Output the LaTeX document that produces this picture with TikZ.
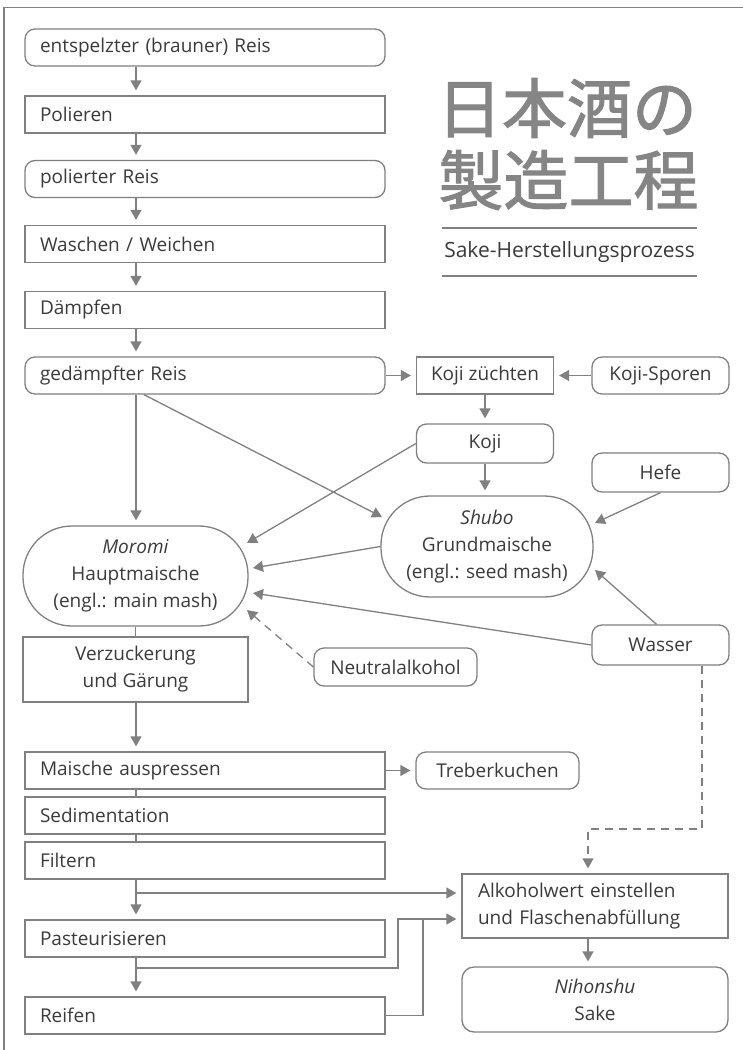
\documentclass[tikz,border=0pt]{standalone}
\usepackage{fontspec}
\setmainfont{Open Sans}
\newfontfamily\cjkfont{Noto Sans CJK JP}[FakeBold=1.6]
\usetikzlibrary{arrows.meta,calc}
\definecolor{lc}{HTML}{808080}
\definecolor{tc}{HTML}{3A3A3A}
\definecolor{ttl}{HTML}{858585}
\newcommand\bodysize{\fontsize{19pt}{27pt}\selectfont}
\begin{document}
\begin{tikzpicture}[x=1pt,y=-1pt,
  base/.style={draw=lc, line width=1.3pt, text=tc, font=\bodysize, inner sep=0pt, align=center},
  sbox/.style={base},
  rbox/.style={base, rounded corners=10pt},
  mash/.style={base, rounded corners=49pt},
  lcol/.style={minimum width=360pt, minimum height=37pt, text width=330pt, align=left},
  small/.style={minimum width=137pt, minimum height=37pt},
  arr/.style={draw=lc, line width=1.3pt, -{Triangle[length=10pt,width=11pt]}, shorten >=5pt},
  darr/.style={arr, shorten >=0pt},
  ln/.style={draw=lc, line width=1.3pt},
  dsh/.style={dash pattern=on 8pt off 6pt}
]
\useasboundingbox (0,0) rectangle (743,1050);
% frame
\draw[lc, line width=1.5pt] (4,1050) -- (4,7.5) -- (743,7.5);

% title
\node[text=ttl, font=\cjkfont\fontsize{65pt}{72pt}\selectfont, inner sep=0pt] (t1) at (567,108) {日本酒の};
\node[text=ttl, font=\cjkfont\fontsize{65pt}{72pt}\selectfont, inner sep=0pt] (t2) at (568.5,180) {製造工程};
\node[text=tc, font=\fontsize{21pt}{25pt}\selectfont, inner sep=0pt] (sub) at (569.5,252) {Sake-Herstellungsprozess};
\draw[lc, line width=1.5pt] (442,228) -- (697,228);
\draw[lc, line width=1.5pt] (442,276) -- (697,276);

% left column
\node[rbox, lcol] (b1) at (205,47.5) {entspelzter (brauner) Reis};
\node[sbox, lcol] (b2) at (205,114.5) {Polieren};
\node[rbox, lcol] (b3) at (205,179) {polierter Reis};
\node[sbox, lcol] (b4) at (205,244) {Waschen / Weichen};
\node[sbox, lcol] (b5) at (205,310) {Dämpfen};
\node[rbox, lcol] (b6) at (205,375.5) {gedämpfter Reis};

% koji
\node[sbox, small] (kz) at (485,375.5) {Koji züchten};
\node[rbox, small] (ks) at (660.5,375.5) {Koji-Sporen};
\node[rbox, small, minimum height=39pt] (koji) at (485,443.5) {Koji};
\node[rbox, small, minimum height=39pt] (hefe) at (660.5,472.5) {Hefe};

% mashes
\node[mash, minimum width=212pt, minimum height=101pt] (shubo) at (487,546.5) {\textit{Shubo}\\Grundmaische\\(engl.: seed mash)};
\node[mash, minimum width=225pt, minimum height=100pt] (moromi) at (135.5,576) {\textit{Moromi}\\Hauptmaische\\(engl.: main mash)};
\node[rbox, small, minimum height=40pt] (wasser) at (660.5,645) {Wasser};
\node[rbox, minimum width=163pt, minimum height=38pt] (neutral) at (395.5,667) {Neutralalkohol};
\node[sbox, minimum width=225pt, minimum height=65pt] (verz) at (135.5,669.5) {Verzuckerung\\und Gärung};

% lower column
\node[sbox, lcol] (mai) at (205,770.5) {Maische auspressen};
\node[sbox, lcol] (sed) at (205,815.5) {Sedimentation};
\node[sbox, lcol] (fil) at (205,860.5) {Filtern};
\node[sbox, lcol] (pas) at (205,938.5) {Pasteurisieren};
\node[sbox, lcol] (rei) at (205,1015.5) {Reifen};
\node[rbox, minimum width=163pt, minimum height=37pt] (trb) at (497.5,770.5) {Treberkuchen};
\node[sbox, minimum width=266pt, minimum height=64pt, text width=234pt, align=left] (alk) at (595,906) {Alkoholwert einstellen\\und Flaschenabfüllung};
\node[rbox, rounded corners=12pt, minimum width=266pt, minimum height=65pt] (nih) at (595,999.5) {\textit{Nihonshu}\\Sake};

% coordinates
\coordinate (cx) at (136,0);
\coordinate (d1) at (702,829);
\coordinate (d2) at (588,829);
\coordinate (j1) at (136,893);
\coordinate (j2) at (136,968);
\coordinate (j3) at (398,968);
\coordinate (j4) at (398,919);
\coordinate (j5) at (423,1015.5);
\coordinate (j6) at (423,919);

% connectors
\draw[arr] (b1.south -| cx) -- (b2.north -| cx);
\draw[arr] (b2.south -| cx) -- (b3.north -| cx);
\draw[arr] (b3.south -| cx) -- (b4.north -| cx);
\draw[arr] (b4.south -| cx) -- (b5.north -| cx);
\draw[arr] (b5.south -| cx) -- (b6.north -| cx);
\draw[arr] (b6.east) -- (kz.west);
\draw[arr] (ks.west) -- (kz.east);
\draw[arr] (kz.south) -- (koji.north);
\draw[arr] (koji.south) -- (shubo.north -| koji.south);
\draw[arr] (b6.south -| cx) -- (moromi.north -| cx);
\draw[darr] ($(b6.south)+(-61,0)$) -- ($(shubo.center)+(-105,-29.5)$);
\draw[darr] (koji.west) -- ($(moromi.center)+(111.5,-33)$);
\draw[darr] (shubo.west) -- ($(moromi.center)+(117.5,-8)$);
\draw[darr] (wasser.west) -- ($(moromi.center)+(117.5,17)$);
\draw[darr, dsh] (neutral.west) -- ($(moromi.center)+(111.5,34)$);
\draw[darr] (hefe.south) -- ($(shubo.center)+(108,-23.5)$);
\draw[darr] ($(wasser.north)+(-4,0)$) -- ($(shubo.center)+(108,23.5)$);
\draw[ln] (moromi.south) -- (verz.north);
\draw[arr] (verz.south -| cx) -- (mai.north -| cx);
\draw[arr] (mai.east) -- (trb.west);
\draw[ln] (mai.south -| cx) -- (sed.north -| cx);
\draw[ln] (sed.south -| cx) -- (fil.north -| cx);
\draw[arr] (fil.south -| cx) -- (pas.north -| cx);
\draw[arr] (j1) -- (alk.west |- j1);
\draw[arr] (pas.south -| cx) -- (rei.north -| cx);
\draw[arr] (j2) -- (j3) -- (j4) -- (alk.west |- j4);
\draw[ln] (rei.east) -- (j5) -- (j6);
\draw[arr, dsh] (wasser.south -| d1) -- (d1) -- (d2) -- (alk.north -| d2);
\draw[arr] (alk.south -| d2) -- (nih.north -| d2);
\end{tikzpicture}
\end{document}
